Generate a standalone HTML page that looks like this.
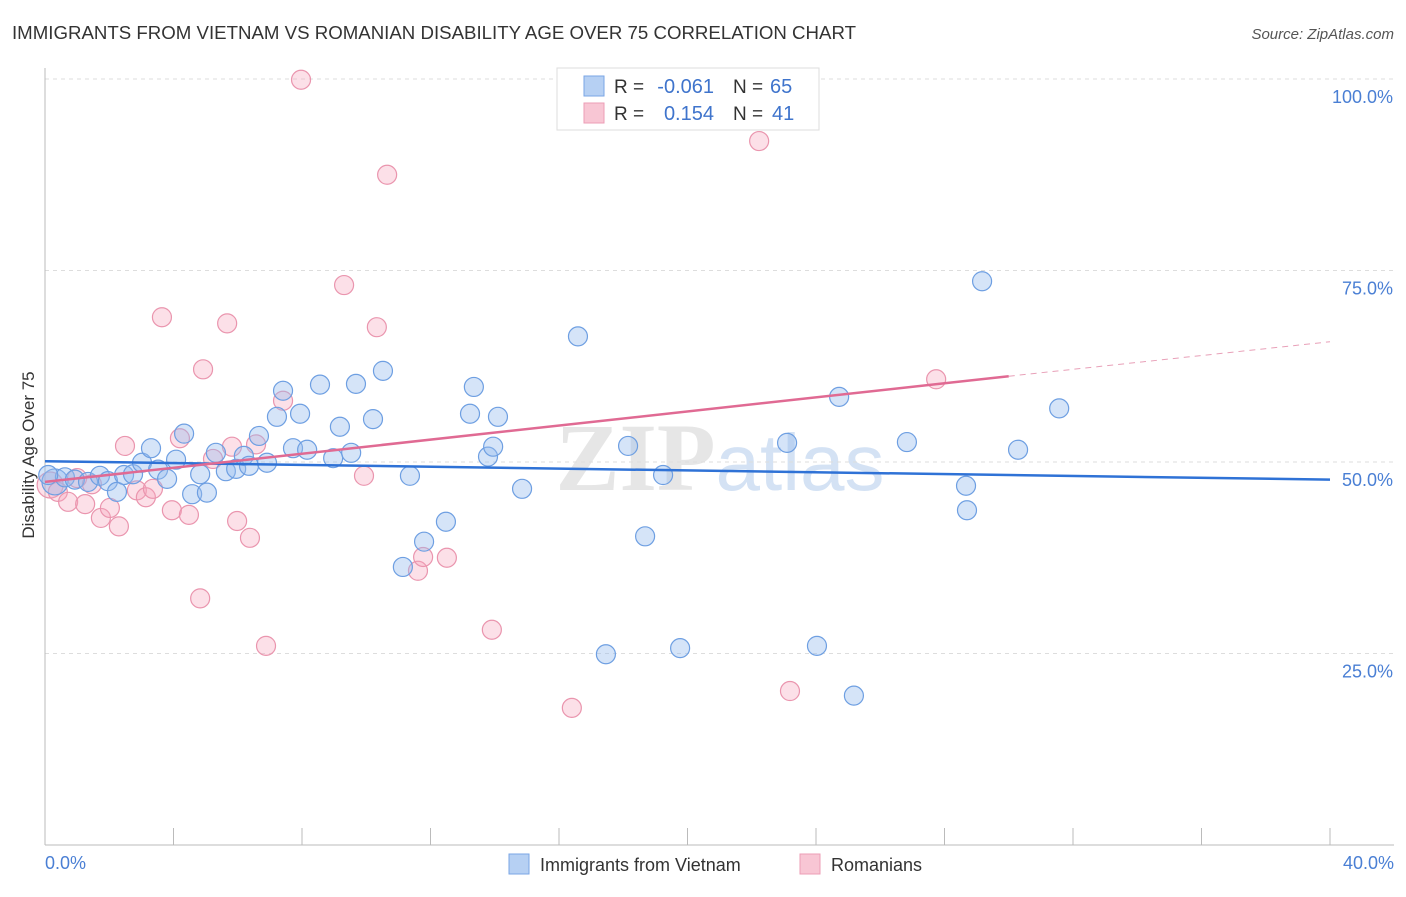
<!DOCTYPE html>
<html><head><meta charset="utf-8"><style>
body{margin:0;background:#fff;font-family:"Liberation Sans",sans-serif}
</style></head><body>
<svg id="chart" width="1406" height="892" xmlns="http://www.w3.org/2000/svg">
<text x="12" y="39" font-size="18" fill="#333" textLength="844" lengthAdjust="spacingAndGlyphs">IMMIGRANTS FROM VIETNAM VS ROMANIAN DISABILITY AGE OVER 75 CORRELATION CHART</text>
<text x="1394" y="39" font-size="15" fill="#555" font-style="italic" text-anchor="end">Source: ZipAtlas.com</text>
<text x="720" y="490" font-size="96" fill="#e6e6e6" text-anchor="middle" font-family="Liberation Serif" font-weight="bold">ZIP<tspan fill="#d4e2f4" font-family="Liberation Sans" font-weight="normal" font-size="80">atlas</tspan></text>
<g id="grid"></g><g id="axes"></g><g id="pts"></g><g id="lines"></g>
<text transform="translate(34,455) rotate(-90)" font-size="17" fill="#333" text-anchor="middle">Disability Age Over 75</text>
<text x="45" y="869" font-size="18" fill="#4a7fd4">0.0%</text>
<text x="1394" y="869" font-size="18" fill="#4a7fd4" text-anchor="end">40.0%</text>
<g>
<rect x="557" y="68" width="262" height="62" fill="#fff" stroke="#ddd"/>
<rect x="584" y="76" width="20" height="20" fill="#b6d0f3" stroke="#7aa6e6"/>
<rect x="584" y="103" width="20" height="20" fill="#f8c6d4" stroke="#ec9db6"/>
<text x="614" y="93" font-size="19" fill="#333">R =</text>
<text x="714" y="93" font-size="20" fill="#3f74cc" text-anchor="end">-0.061</text>
<text x="733" y="93" font-size="19" fill="#333">N =</text>
<text x="770" y="93" font-size="20" fill="#3f74cc">65</text>
<text x="614" y="120" font-size="19" fill="#333">R =</text>
<text x="714" y="120" font-size="20" fill="#3f74cc" text-anchor="end">0.154</text>
<text x="733" y="120" font-size="19" fill="#333">N =</text>
<text x="772" y="120" font-size="20" fill="#3f74cc">41</text>
</g>
<g>
<rect x="509" y="854" width="20" height="20" fill="#b6d0f3" stroke="#7aa6e6"/>
<text x="540" y="871" font-size="18" fill="#333">Immigrants from Vietnam</text>
<rect x="800" y="854" width="20" height="20" fill="#f8c6d4" stroke="#ec9db6"/>
<text x="831" y="871" font-size="18" fill="#333">Romanians</text>
</g>
</svg>
<script>
const blueX=[0.31,0.62,0.93,1.34,1.71,1.96,2.24,2.46,2.74,3.02,3.30,3.52,3.80,4.08,4.33,4.58,4.83,5.04,5.32,5.63,5.95,6.19,6.35,6.66,6.91,7.22,7.41,7.72,7.94,8.16,8.56,8.97,9.18,9.53,9.68,10.21,10.52,11.14,11.36,11.80,12.48,13.23,13.35,13.79,13.95,14.10,14.85,16.59,17.46,18.15,18.68,19.24,19.77,23.10,24.03,24.72,25.18,26.83,28.67,28.70,29.17,30.29,31.57,0.1];
const blueY=[47.4,48.0,47.7,47.4,48.2,47.5,46.1,48.3,48.4,49.9,51.8,49.0,47.8,50.3,53.7,45.8,48.4,46.0,51.2,48.8,49.1,50.8,49.5,53.4,49.9,55.9,59.3,51.8,56.3,51.6,60.1,50.5,54.6,51.2,60.2,55.6,61.9,36.3,48.2,39.6,42.2,56.3,59.8,50.7,52.0,55.9,46.5,66.4,24.9,52.1,40.3,48.3,25.7,52.5,26.0,58.5,19.5,52.6,46.9,43.7,73.6,51.6,57.0,48.3];
const pinkX=[0.16,0.40,0.72,1.00,1.25,1.46,1.74,2.02,2.30,2.49,2.86,3.14,3.36,3.64,3.95,4.20,4.48,4.83,4.92,5.23,5.67,5.82,5.98,6.38,6.57,6.88,7.41,7.97,9.31,9.93,10.33,10.65,11.61,11.77,12.51,13.91,16.40,16.56,22.23,23.19,27.74];
const pinkY=[47.0,46.1,44.8,47.9,44.5,47.1,42.7,44.0,41.6,52.1,46.3,45.4,46.5,68.9,43.7,53.1,43.1,32.2,62.1,50.4,68.1,52.0,42.3,40.1,52.3,26.0,58.0,99.9,73.1,48.2,67.6,87.5,35.8,37.6,37.5,28.1,17.9,99.9,91.9,20.1,60.8];
const blueTrend=[[0,50.1],[40,47.7]];
const pinkTrend=[[0,47.4],[30,61.2],[40,65.7]];
const yTicks=[25,50,75,100];
const xTicks=[0,4,8,12,16,20,24,28,32,36,40];
const sx=v=>45+v*32.125, sy=v=>845-v*7.66;
const NS="http://www.w3.org/2000/svg";
function mk(p,t,a){const e=document.createElementNS(NS,t);for(const k in a)e.setAttribute(k,a[k]);document.getElementById(p).appendChild(e);return e;}
yTicks.forEach(v=>{
 const l=mk('grid','line',{x1:45,x2:1394,y1:sy(v),y2:sy(v),stroke:'#ddd','stroke-dasharray':'4 4'});
 
 
 const t=mk('grid','text',{x:1393,y:sy(v)+24,'font-size':18,fill:'#4a7fd4','text-anchor':'end'});
 t.textContent=v.toFixed(1)+'%';
 
 
});
const ax=mk('axes','line',{x1:45,x2:45,y1:68,y2:845,stroke:'#bbb'});


const bx=mk('axes','line',{x1:45,x2:1394,y1:845,y2:845,stroke:'#bbb'});


xTicks.forEach(v=>{
 const t=mk('axes','line',{x1:sx(v),x2:sx(v),y1:828,y2:845,stroke:'#bbb'});
 
 
});
function dots(X,Y,fill,stroke,name){X.forEach((x,i)=>{
 const c=mk('pts','circle',{cx:sx(x),cy:sy(Y[i]),r:(x<0.35&&i<2)?13:9.5,fill:fill,stroke:stroke,'stroke-width':1.2});
 
 
});}
dots(pinkX,pinkY,'rgba(245,165,188,0.35)','#ea95ae','romanians-point');
dots(blueX,blueY,'rgba(150,188,238,0.4)','#6e9fe2','vietnam-point');
const bl=mk('lines','line',{x1:sx(blueTrend[0][0]),y1:sy(blueTrend[0][1]),x2:sx(blueTrend[1][0]),y2:sy(blueTrend[1][1]),stroke:'#2f72d6','stroke-width':2.5});


const pl=mk('lines','line',{x1:sx(pinkTrend[0][0]),y1:sy(pinkTrend[0][1]),x2:sx(pinkTrend[1][0]),y2:sy(pinkTrend[1][1]),stroke:'#e06a93','stroke-width':2.5});


const pd=mk('lines','line',{x1:sx(pinkTrend[1][0]),y1:sy(pinkTrend[1][1]),x2:sx(pinkTrend[2][0]),y2:sy(pinkTrend[2][1]),stroke:'#e8a0b8','stroke-width':1,'stroke-dasharray':'6 5'});


</script>
</body></html>
